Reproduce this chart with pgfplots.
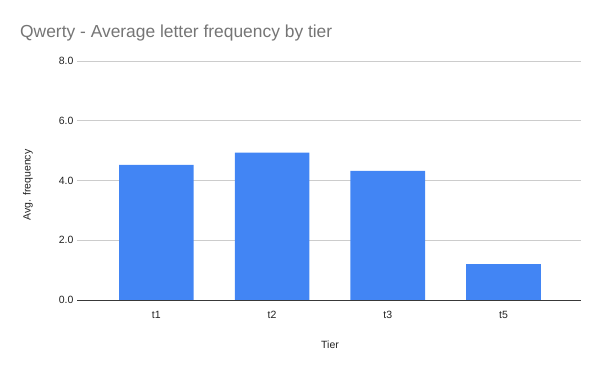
\documentclass[border=0pt]{standalone}
\usepackage{pgfplots}
\pgfplotsset{compat=1.18}
\usetikzlibrary{calc}
\usepackage{fontspec}
\setmainfont{Liberation Sans}
\definecolor{barblue}{HTML}{4285F4}
\definecolor{gridgray}{HTML}{CCCCCC}
\definecolor{titlegray}{HTML}{757575}
\definecolor{txt}{HTML}{222222}
\begin{document}
\begin{tikzpicture}
\begin{axis}[
  name=ax,
  scale only axis, width=504pt, height=239pt,
  ymin=0, ymax=8, ytick={0,2,4,6,8},
  xmin=-0.686, xmax=3.67,
  xtick={0,1,2,3}, xticklabels={t1,t2,t3,t5},
  ybar, bar width=0.645, bar shift=0pt,
  ymajorgrids, grid style={gridgray, line width=0.8pt},
  axis x line*=bottom, axis y line*=left,
  x axis line style={draw=txt!90, line width=0.8pt, -},
  y axis line style={draw=none},
  tick style={draw=none},
  /pgf/number format/assume math mode=true,
  yticklabel style={font=\fontsize{10.5}{12}\selectfont, text=txt, /pgf/number format/fixed, /pgf/number format/fixed zerofill, /pgf/number format/precision=1},
  xticklabel style={font=\fontsize{10.5}{12}\selectfont, text=txt, yshift=-3pt},
  clip=false,
]
\addplot[fill=barblue, draw=none] coordinates {(0,4.52) (1,4.93) (2,4.32) (3,1.20)};
\end{axis}
\coordinate (O) at ($(ax.south west)+(-77pt,-71pt)$);
\useasboundingbox (O) rectangle ++(600pt,371pt);
\node[anchor=base west, font=\fontsize{17.4}{20}\selectfont, text=titlegray, inner sep=0] at ($(O)+(20pt,333pt)$) {Qwerty - Average letter frequency by tier};
\node[font=\fontsize{10.5}{12}\selectfont, text=txt] at ($(O)+(330pt,26pt)$) {Tier};
\node[font=\fontsize{10.5}{12}\selectfont, text=txt, rotate=90] at ($(O)+(28pt,186pt)$) {Avg. frequency};
\end{tikzpicture}
\end{document}
